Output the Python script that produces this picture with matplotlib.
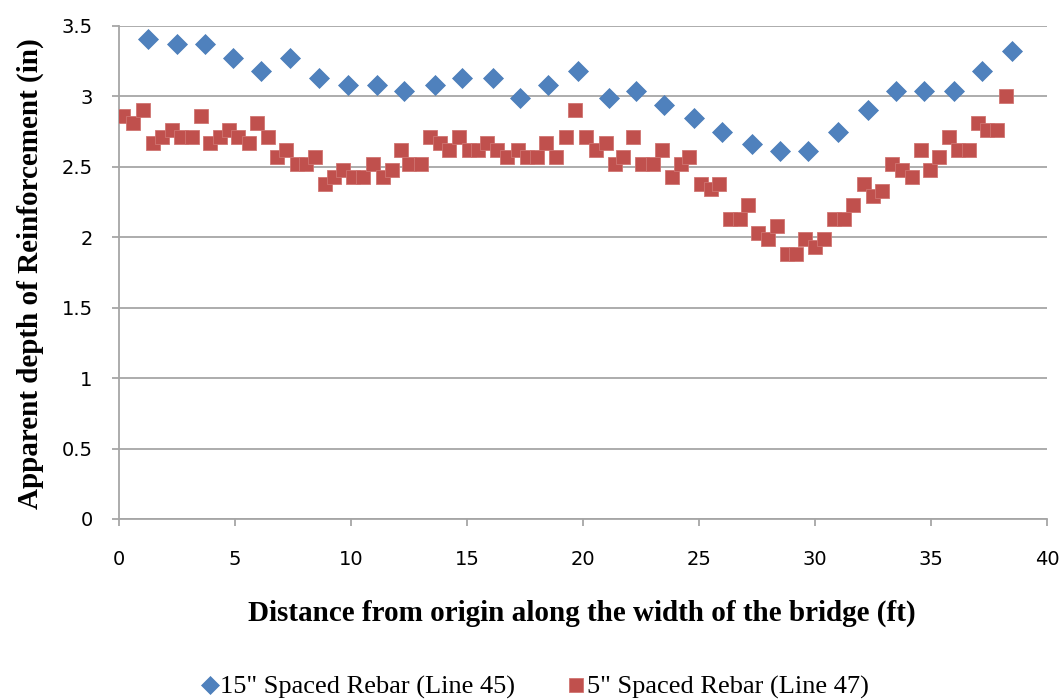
import matplotlib.pyplot as plt
from matplotlib.ticker import FuncFormatter

# 15" spaced rebar (Line 45)
x_15 = [1.25, 2.5, 3.7, 4.9, 6.1, 7.37, 8.6, 9.87, 11.1, 12.3, 13.6, 14.8, 16.1,
        17.3, 18.5, 19.8, 21.1, 22.3, 23.5, 24.8, 26.0, 27.3, 28.5, 29.7, 31.0,
        32.3, 33.5, 34.7, 36.0, 37.2, 38.5]
y_15 = [3.41, 3.37, 3.37, 3.27, 3.18, 3.27, 3.13, 3.08, 3.08, 3.04, 3.08, 3.13,
        3.13, 2.99, 3.08, 3.18, 2.99, 3.04, 2.94, 2.85, 2.75, 2.66, 2.61, 2.61,
        2.75, 2.90, 3.04, 3.04, 3.04, 3.18, 3.32]

# 5" spaced rebar (Line 47)
x_5 = [0.19, 0.59, 1.05, 1.48, 1.84, 2.30, 2.66, 3.13, 3.52, 3.92, 4.35, 4.74,
       5.14, 5.62, 5.94, 6.44, 6.80, 7.20, 7.66, 8.06, 8.45, 8.88, 9.28, 9.67,
       10.10, 10.53, 10.94, 11.37, 11.75, 12.16, 12.51, 13.02, 13.41, 13.84,
       14.22, 14.67, 15.10, 15.49, 15.88, 16.28, 16.71, 17.21, 17.60, 18.03,
       18.41, 18.84, 19.27, 19.66, 20.12, 20.56, 20.99, 21.38, 21.74, 22.17,
       22.53, 23.03, 23.42, 23.82, 24.21, 24.57, 25.07, 25.50, 25.88, 26.34,
       26.77, 27.13, 27.56, 27.96, 28.35, 28.78, 29.18, 29.57, 30.00, 30.39,
       30.82, 31.25, 31.65, 32.11, 32.50, 32.90, 33.33, 33.76, 34.17, 34.57,
       34.96, 35.36, 35.79, 36.18, 36.65, 37.01, 37.40, 37.83, 38.23]
y_5 = [2.86, 2.81, 2.90, 2.67, 2.71, 2.76, 2.71, 2.71, 2.86, 2.67, 2.71, 2.76,
       2.71, 2.67, 2.81, 2.71, 2.57, 2.62, 2.52, 2.52, 2.57, 2.38, 2.43, 2.48,
       2.43, 2.43, 2.52, 2.43, 2.48, 2.62, 2.52, 2.52, 2.71, 2.67, 2.62, 2.71,
       2.62, 2.62, 2.67, 2.62, 2.57, 2.62, 2.57, 2.57, 2.67, 2.57, 2.71, 2.90,
       2.71, 2.62, 2.67, 2.52, 2.57, 2.71, 2.52, 2.52, 2.62, 2.43, 2.52, 2.57,
       2.38, 2.34, 2.38, 2.13, 2.13, 2.23, 2.03, 1.99, 2.08, 1.88, 1.88, 1.99,
       1.93, 1.99, 2.13, 2.13, 2.23, 2.38, 2.29, 2.33, 2.52, 2.48, 2.43, 2.62,
       2.48, 2.57, 2.71, 2.62, 2.62, 2.81, 2.76, 2.76, 3.00]

x_ticks = [0, 5, 10, 15, 20, 25, 30, 35, 40]
y_ticks = [0, 0.5, 1, 1.5, 2, 2.5, 3, 3.5]

serif = "Liberation Serif"
sans = "DejaVu Sans"
grid_gray = "#a6a6a6"

fig = plt.figure(figsize=(10.6, 7), dpi=100)
ax = fig.add_axes([0.1123, 0.2586, 0.8754, 0.7043])

ax.plot(x_15, y_15, linestyle="none", marker="D", markersize=10,
        color="#4f81bd", markeredgecolor="#4a7cb8", markeredgewidth=0.5,
        label='15" Spaced Rebar (Line 45)', zorder=3)
ax.plot(x_5, y_5, linestyle="none", marker="s", markersize=10.5,
        color="#c0504d", markeredgecolor="#d07471", markeredgewidth=0.6,
        label='5" Spaced Rebar (Line 47)', zorder=3)

ax.set_xlim(0, 40)
ax.set_ylim(0, 3.5)
ax.set_xticks(x_ticks)
ax.set_yticks(y_ticks)
ax.yaxis.set_major_formatter(FuncFormatter(lambda v, _: f"{v:g}"))

ax.grid(axis="y", color=grid_gray, linewidth=1.3, zorder=0)
ax.set_axisbelow(True)
for side in ["top", "right"]:
    ax.spines[side].set_visible(False)
for side in ["left", "bottom"]:
    ax.spines[side].set_color(grid_gray)
    ax.spines[side].set_linewidth(1.3)
ax.tick_params(axis="both", colors=grid_gray, length=5, width=1.3,
               labelcolor="black", labelsize=14)
ax.tick_params(axis="y", pad=14)
ax.tick_params(axis="x", pad=17)
for lab in ax.get_xticklabels() + ax.get_yticklabels():
    lab.set_fontfamily(sans)

fig.text(0.5486, 0.124, "Distance from origin along the width of the bridge (ft)",
         ha="center", va="center", fontsize=21, fontweight="bold", family=serif)
fig.text(0.0283, 0.6086, "Apparent depth of Reinforcement (in)", ha="center",
         va="center", rotation=90, fontsize=21, fontweight="bold", family=serif)

fig.legend(loc="center", bbox_to_anchor=(0.505, 0.018), ncol=2, frameon=False,
           prop={"family": serif, "size": 19}, handletextpad=0.1,
           columnspacing=2.0, handlelength=0.6, markerscale=0.95)

fig.savefig("out.png", dpi=100)
